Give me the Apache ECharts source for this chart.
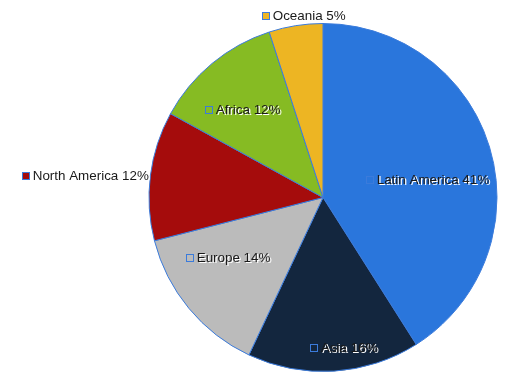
<!DOCTYPE html>
<html><head><meta charset="utf-8">
<style>html,body{margin:0;padding:0;background:#fff}#c{width:510px;height:380px}</style>
<script src="https://cdn.jsdelivr.net/npm/echarts@6/dist/echarts.min.js"></script>
</head><body><div id="c"></div>
<script>
const categories = ['Latin America', 'Asia', 'Europe', 'North America', 'Africa', 'Oceania'];
const values = [41, 16, 14, 12, 12, 5];
const colors = ['#2A76DC', '#13263E', '#BBBBBB', '#A50C0C', '#86BB23', '#EDB523'];
// label anchor positions (left edge of marker, vertical middle)
const labelAnchors = [[367, 180], [311, 348], [187, 258], [23, 176], [206, 110], [263, 16]];

const chart = echarts.init(document.getElementById('c'), null, {renderer: 'canvas'});
const shadow = {textShadowColor: '#ffffff', textShadowOffsetX: 1.5, textShadowOffsetY: 1.5, textShadowBlur: 0.5};
const txt = Object.assign({color: '#1a1a1a', fontFamily: 'Liberation Sans, Arial, sans-serif', fontSize: 13.4}, shadow);
chart.setOption({
  animation: false,
  series: [{
    type: 'pie',
    center: [323, 197.5],
    radius: [0, 174],
    startAngle: 90,
    clockwise: true,
    data: categories.map((n, i) => ({
      name: n, value: values[i],
      itemStyle: {color: colors[i]},
      label: {
        rich: {
          m: {width: 6, height: 6, backgroundColor: colors[i], borderColor: '#3B7BDB', borderWidth: 1, textShadowBlur: 0, textShadowOffsetX: 0, textShadowOffsetY: 0},
          t: txt
        }
      }
    })),
    itemStyle: {borderColor: '#3B7BDB', borderWidth: 1},
    label: Object.assign({
      show: true,
      position: 'inside',
      color: '#1a1a1a', fontFamily: 'Liberation Sans, Arial, sans-serif', fontSize: 13.4,
      formatter: p => '{m|}{t| ' + p.name + ' ' + p.value + '%}'
    }, shadow),
    labelLine: {show: false},
    labelLayout: p => ({x: labelAnchors[p.dataIndex][0], y: labelAnchors[p.dataIndex][1], align: 'left', verticalAlign: 'middle'}),
    emphasis: {disabled: true}
  }]
});
</script></body></html>
